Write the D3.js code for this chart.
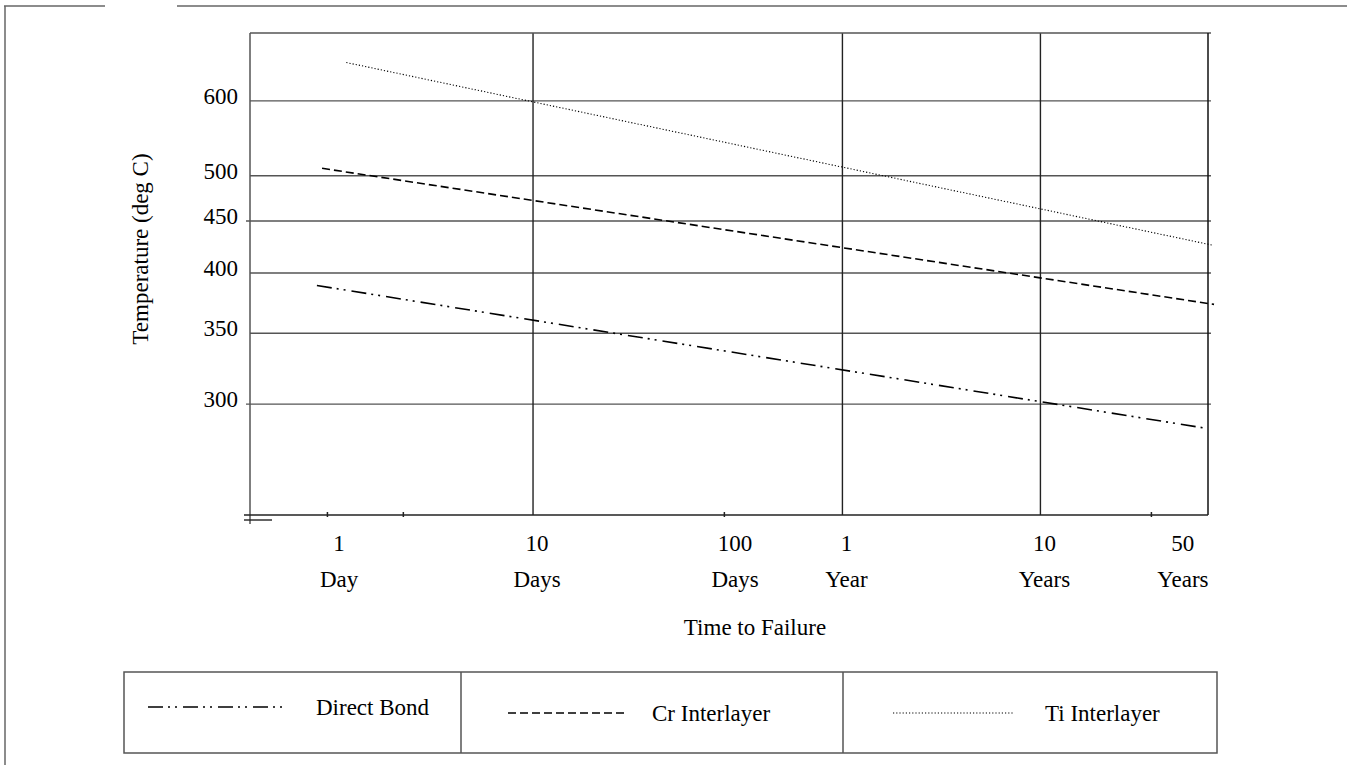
<!DOCTYPE html>
<html>
<head>
<meta charset="utf-8">
<title>Temperature vs Time to Failure</title>
<script src="https://d3js.org/d3.v7.min.js"></script>
<style>
  body { margin: 0; background: #fff; }
  #chart text {
    font-family: "Liberation Serif", "Times New Roman", serif;
    font-size: 23px;
    fill: #000;
  }
</style>
</head>
<body>
<div id="chart"></div>
<script>
// ---- data ----
const seriesNames = ["Direct Bond", "Cr Interlayer", "Ti Interlayer"];
// time to failure in days, temperature in deg C
const directBondDays = [0.81, 24200];
const directBondTemp = [389, 285];
const crDays = [0.86, 27500];
const crTemp = [509, 373];
const tiDays = [1.14, 26850];
const tiTemp = [662, 426];

const tempTicks = [600, 500, 450, 400, 350, 300];
const tempTicksOut = [450, 300];          // the two with a small tick outside the axis
const timeLabelDays = [1, 10, 100, 365.25, 3652.5, 18262.5];
const timeNumbers = ["1", "10", "100", "1", "10", "50"];
const timeUnits = ["Day", "Days", "Days", "Year", "Years", "Years"];
const timeGridDays = [10, 365.25, 3652.5];
const timeMinorDays = [0.91, 2.2, 92, 13200];

const width = 1347, height = 765;
const margin = {left: 250, top: 33};
const W = 958, H = 482;

const svg = d3.select("#chart").append("svg")
  .attr("width", width)
  .attr("height", height);

// page border lines
const border = svg.append("g").attr("stroke", "#666").attr("stroke-width", 1.5);
border.append("line").attr("x1", 4).attr("x2", 105).attr("y1", 6).attr("y2", 6);
border.append("line").attr("x1", 177).attr("x2", width).attr("y1", 6).attr("y2", 6);
border.append("line").attr("x1", 5).attr("x2", 5).attr("y1", 6).attr("y2", height);

const g = svg.append("g").attr("transform", `translate(${margin.left},${margin.top})`);

// x : log of days
const x = d3.scaleLog().domain([0.372, 25640]).range([0, W]);
// y : linear in 1/T (Kelvin), Arrhenius style
const kelvin = t => 1 / (t + 273);
const yInv = d3.scaleLinear().domain([kelvin(716), kelvin(236)]).range([0, H]);
const y = t => yInv(kelvin(t));

// horizontal grid
g.append("g").selectAll("line")
  .data(tempTicks).join("line")
  .attr("x1", d => tempTicksOut.includes(d) ? -4 : 0)
  .attr("x2", W + 3)
  .attr("y1", d => y(d)).attr("y2", d => y(d))
  .attr("stroke", "#555").attr("stroke-width", 1.4);

// vertical grid
g.append("g").selectAll("line")
  .data(timeGridDays).join("line")
  .attr("x1", d => x(d)).attr("x2", d => x(d))
  .attr("y1", 0).attr("y2", H)
  .attr("stroke", "#222").attr("stroke-width", 1.4);

// frame
g.append("line").attr("x1", 0).attr("x2", W + 3).attr("y1", 0).attr("y2", 0)
  .attr("stroke", "#555").attr("stroke-width", 1.5);
g.append("line").attr("x1", 0).attr("x2", 0).attr("y1", 0).attr("y2", H + 9)
  .attr("stroke", "#555").attr("stroke-width", 1.5);
g.append("line").attr("x1", W).attr("x2", W).attr("y1", 0).attr("y2", H)
  .attr("stroke", "#111").attr("stroke-width", 1.5);

// x axis with small ticks
const xAxis = g.append("g").attr("transform", `translate(0,${H})`)
  .call(d3.axisBottom(x).tickValues(timeMinorDays).tickSizeInner(-3).tickSizeOuter(0).tickFormat(""));
xAxis.select(".domain").remove();
xAxis.selectAll(".tick line").attr("stroke", "#222").attr("stroke-width", 1.5)
  .attr("y1", 2);
g.append("line").attr("x1", -6).attr("x2", W).attr("y1", H).attr("y2", H)
  .attr("stroke", "#222").attr("stroke-width", 1.6);
g.append("line").attr("x1", -6).attr("x2", 22).attr("y1", H + 5).attr("y2", H + 5)
  .attr("stroke", "#222").attr("stroke-width", 1.4);

// x tick labels (two rows), set a little right of their values as in the source
const xl = g.append("g").selectAll("g")
  .data(timeLabelDays).join("g")
  .attr("transform", d => `translate(${x(d) + 4},${H})`);
xl.append("text").attr("y", 36).attr("text-anchor", "middle")
  .text((d, i) => timeNumbers[i]);
xl.append("text").attr("y", 72).attr("text-anchor", "middle")
  .text((d, i) => timeUnits[i]);

// y tick labels
const yAxis = g.append("g")
  .call(d3.axisLeft(yInv)
    .tickValues(tempTicks.map(kelvin))
    .tickSize(0).tickPadding(12)
    .tickFormat(v => Math.round(1 / v - 273)));
yAxis.select(".domain").remove();
yAxis.selectAll("text")
  .style("font-family", "\"Liberation Serif\", \"Times New Roman\", serif")
  .style("font-size", "23px")
  .attr("dy", "0.1em");

// axis titles
svg.append("text")
  .attr("x", 755)
  .attr("y", 635)
  .attr("text-anchor", "middle")
  .text("Time to Failure");
svg.append("text")
  .attr("transform", "translate(148,249) rotate(-90)")
  .attr("text-anchor", "middle")
  .text("Temperature (deg C)");

// series lines
const dashes = ["15,5,2,5,2,6", "8,4", "1.2,2"];
const widths = [1.6, 1.6, 1.1];
const series = [
  d3.zip(directBondDays, directBondTemp),
  d3.zip(crDays, crTemp),
  d3.zip(tiDays, tiTemp)
];
const line = d3.line().x(d => x(d[0])).y(d => y(d[1]));
g.append("g").selectAll("path")
  .data(series).join("path")
  .attr("d", line)
  .attr("fill", "none")
  .attr("stroke", "#000")
  .attr("stroke-width", (d, i) => widths[i])
  .attr("stroke-dasharray", (d, i) => dashes[i]);

// legend
const legend = svg.append("g").attr("transform", "translate(124,672)");
const legW = 1093, legH = 81;
const cellStart = [0, 337, 719];
const sampleX = [[24, 164], [47, 165], [50, 170]];
const sampleY = [35, 41, 41];
const textX = [192, 191, 202];
legend.append("rect").attr("width", legW).attr("height", legH)
  .attr("fill", "none").attr("stroke", "#555").attr("stroke-width", 1.5);
legend.selectAll("line.div")
  .data(cellStart.slice(1)).join("line")
  .attr("class", "div")
  .attr("x1", d => d).attr("x2", d => d)
  .attr("y1", 0).attr("y2", legH)
  .attr("stroke", "#555").attr("stroke-width", 1.5);
const cell = legend.selectAll("g.cell")
  .data(seriesNames).join("g")
  .attr("class", "cell")
  .attr("transform", (d, i) => `translate(${cellStart[i]},0)`);
cell.append("line")
  .attr("x1", (d, i) => sampleX[i][0]).attr("x2", (d, i) => sampleX[i][1])
  .attr("y1", (d, i) => sampleY[i]).attr("y2", (d, i) => sampleY[i])
  .attr("stroke", "#000")
  .attr("stroke-width", (d, i) => widths[i])
  .attr("stroke-dasharray", (d, i) => dashes[i]);
cell.append("text")
  .attr("x", (d, i) => textX[i])
  .attr("y", (d, i) => sampleY[i])
  .attr("dy", "0.33em")
  .text(d => d);
</script>
</body>
</html>
